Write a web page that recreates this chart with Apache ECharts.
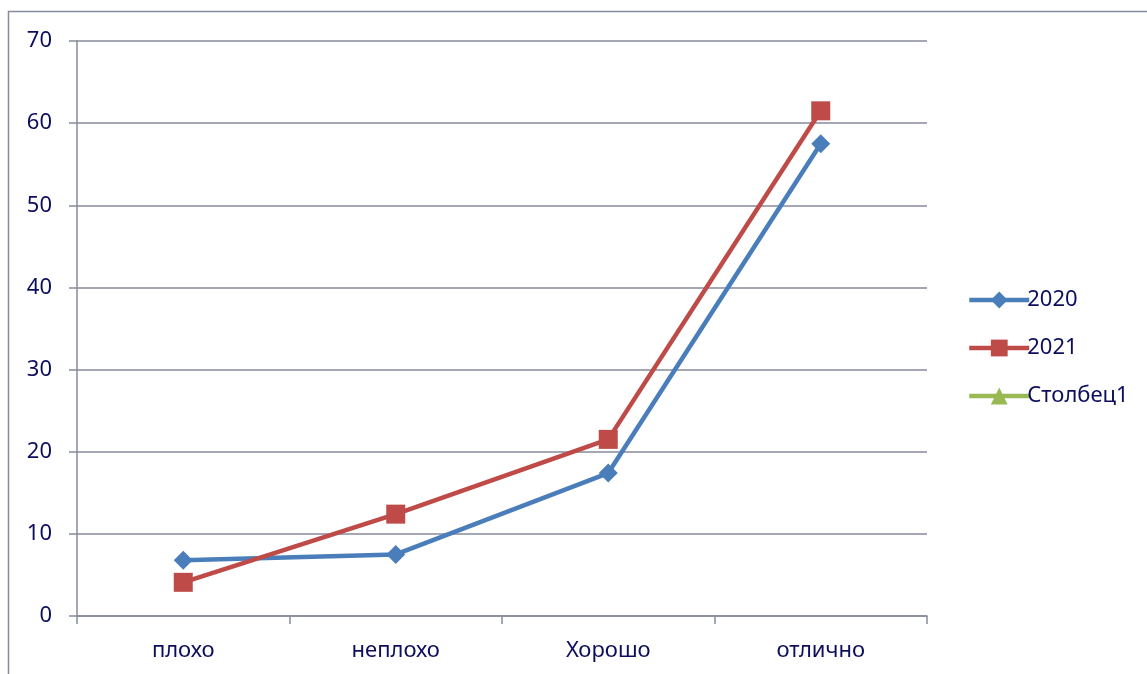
<!DOCTYPE html>
<html><head><meta charset="utf-8">
<script src="https://cdn.jsdelivr.net/npm/echarts@6/dist/echarts.min.js"></script>
<style>html,body{margin:0;padding:0;background:#fff}#c{width:1147px;height:674px}</style>
</head><body><div id="c"></div>
<script>
const categories = ['плохо', 'неплохо', 'Хорошо', 'отлично'];
const s2020 = [6.8, 7.5, 17.4, 57.5];
const s2021 = [4.1, 12.4, 21.5, 61.5];
const sCol1 = [null, null, null, null];
const yTicks = [0, 10, 20, 30, 40, 50, 60, 70];

const txt = '#0d0d5e';
const axisCol = '#878a9c';
const font = 'Noto Sans';
const chart = echarts.init(document.getElementById('c'));
chart.setOption({
  animation: false,
  textStyle: {fontFamily: font},
  graphic: [{type: 'rect', shape: {x: 8.5, y: 11.5, width: 1200, height: 700}, style: {fill: 'none', stroke: axisCol, lineWidth: 1.5}}],
  grid: {left: 77, right: 220, top: 41, bottom: 58},
  legend: {
    orient: 'vertical', left: 962, top: 284, itemGap: 26, itemWidth: 60, itemHeight: 21,
    lineStyle: {width: 4.5},
    textStyle: {fontSize: 22, color: txt, fontFamily: font, padding: [0, 0, 0, -7]},
    data: ['2020', '2021', 'Столбец1']
  },
  xAxis: {
    type: 'category', data: categories, boundaryGap: true,
    axisLine: {lineStyle: {color: axisCol, width: 1.5}},
    axisTick: {show: true, length: 8, lineStyle: {color: axisCol, width: 1.5}},
    axisLabel: {fontSize: 22, color: txt, margin: 24, fontFamily: font}
  },
  yAxis: {
    type: 'value', min: yTicks[0], max: yTicks[yTicks.length - 1], interval: 10,
    axisLine: {show: true, lineStyle: {color: axisCol, width: 1.5}},
    axisTick: {show: true, length: 8, lineStyle: {color: axisCol, width: 1.5}},
    splitLine: {lineStyle: {color: axisCol, width: 1.5}},
    axisLabel: {fontSize: 22, color: txt, margin: 25, fontFamily: font}
  },
  series: [
    {name: '2020', type: 'line', data: s2020, symbol: 'diamond', symbolSize: 19,
     itemStyle: {color: '#4a7ebb'}, lineStyle: {color: '#4a7ebb', width: 4.5}},
    {name: '2021', type: 'line', data: s2021, symbol: 'rect', symbolSize: 19,
     itemStyle: {color: '#be4b48'}, lineStyle: {color: '#be4b48', width: 4.5}},
    {name: 'Столбец1', type: 'line', data: sCol1, symbol: 'triangle', symbolSize: 17,
     itemStyle: {color: '#98b954'}, lineStyle: {color: '#98b954', width: 4.5}}
  ]
});
</script></body></html>
